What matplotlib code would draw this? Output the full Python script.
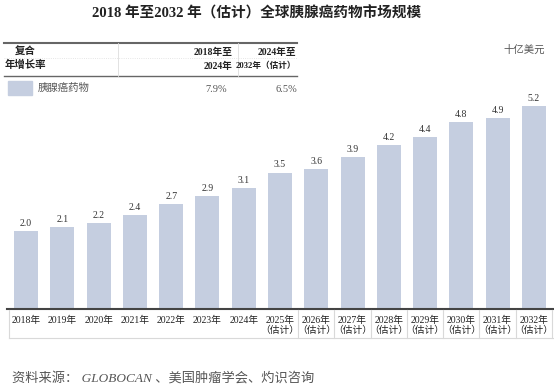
import matplotlib
matplotlib.use("Agg")
import matplotlib.pyplot as plt
from matplotlib.lines import Line2D
from matplotlib.patches import Rectangle
from matplotlib.transforms import blended_transform_factory

years = [str(y) for y in range(2018, 2033)]
values = [2.0, 2.1, 2.2, 2.4, 2.7, 2.9, 3.1, 3.5, 3.6, 3.9, 4.2, 4.4, 4.8, 4.9, 5.2]
n_actual = 7  # 2018-2024 actual, rest estimated
cagr_labels = ["2018年至\n2024年", "2024年至\n2032年（估计）"]
cagr_values = ["7.9%", "6.5%"]
series_name = "胰腺癌药物"

W, H = 554, 389
bar_color = "#c5cee0"
serif = ["Liberation Serif", "Noto Sans CJK SC"]
sans = ["Noto Sans CJK SC", "DejaVu Sans"]

def fx(x):
    return x / W

def fy(y):
    return 1 - y / H

fig = plt.figure(figsize=(W / 100, H / 100), dpi=100)
ax = fig.add_axes([fx(8), fy(309), 544 / W, 209 / H])

xs = list(range(len(years)))
ax.bar(xs, values, width=0.66, color=bar_color)
for x, v in zip(xs, values):
    ax.text(x, v + 0.08, f"{v:.1f}", ha="center", va="bottom",
            fontsize=7, color="#333333", family=serif)

labels = [y + "年" if i < n_actual else y + "年\n（估计）" for i, y in enumerate(years)]
ax.set_xticks(xs)
ax.set_xticklabels(labels, fontsize=7, family=serif, color="#222222", linespacing=1.05)
ax.tick_params(axis="x", length=0, pad=5)
ax.set_yticks([])
ax.set_xlim(-0.5, 14.5)
ax.set_ylim(0, 5.36)
for s in ["top", "right", "left"]:
    ax.spines[s].set_visible(False)
ax.spines["bottom"].set_color("#444444")
ax.spines["bottom"].set_linewidth(1.5)
ax.spines["bottom"].set_bounds(-0.52, 14.6)

# grid lines of the label table under the axis
tr = blended_transform_factory(ax.transData, fig.transFigure)
grid_c = "#d9d9d9"
for i in range(n_actual, len(years)):
    fig.add_artist(Line2D([i + 0.5, i + 0.5], [fy(310), fy(338)], transform=tr,
                          color=grid_c, lw=0.8))
fig.add_artist(Line2D([fx(9), fx(9)], [fy(310), fy(338)], color=grid_c, lw=0.8))
fig.add_artist(Line2D([fx(9), fx(553)], [fy(338), fy(338)], color=grid_c, lw=0.8))

# title
fig.text(fx(257), fy(13), "2018 年至2032 年（估计）全球胰腺癌药物市场规模",
         ha="center", va="center", fontsize=10.5, fontweight="bold",
         family=serif, color="#222222")

# CAGR header table
fig.add_artist(Line2D([fx(4), fx(297)], [fy(43), fy(43)], color="#666666", lw=1.5))
fig.add_artist(Line2D([fx(4), fx(297)], [fy(58), fy(58)], color="#dddddd", lw=0.6, ls=":"))
fig.add_artist(Line2D([fx(4), fx(297)], [fy(76), fy(76)], color="#666666", lw=1.0))
for xv in [118, 238]:
    fig.add_artist(Line2D([fx(xv), fx(xv)], [fy(43), fy(76)], color="#dddddd", lw=0.6))

fig.text(fx(15), fy(52), "复合", fontsize=7.5, fontweight="bold", family=sans,
         va="center", color="#222222")
fig.text(fx(5), fy(65), "年增长率", fontsize=7.5, fontweight="bold", family=sans,
         va="center", color="#222222")
for lab, xr, fs in zip(cagr_labels, [233, 296], [7, 6.2]):
    top, bottom = lab.split("\n")
    fig.text(fx(xr), fy(52), top, fontsize=7, fontweight="bold", family=serif,
             ha="right", va="center", color="#222222")
    fig.text(fx(xr), fy(66), bottom, fontsize=fs, fontweight="bold", family=serif,
             ha="right", va="center", color="#222222")

fig.add_artist(Rectangle((fx(8), fy(95)), 24 / W, 14 / H, transform=fig.transFigure,
                         color=bar_color))
fig.text(fx(38), fy(88), series_name, fontsize=7.5, family=sans, va="center",
         color="#555555")
for val, xr in zip(cagr_values, [227, 297]):
    fig.text(fx(xr), fy(89), val, fontsize=7.5, family=serif, ha="right",
             va="center", color="#555555")

fig.text(fx(545), fy(50), "十亿美元", fontsize=7.5, family=sans, style="italic",
         ha="right", va="center", color="#555555")

fig.text(fx(12), fy(378), "资料来源： GLOBOCAN 、美国肿瘤学会、灼识咨询",
         fontsize=9.5, family=serif, style="italic", va="center", color="#555555")

fig.savefig("out.png", dpi=100)
